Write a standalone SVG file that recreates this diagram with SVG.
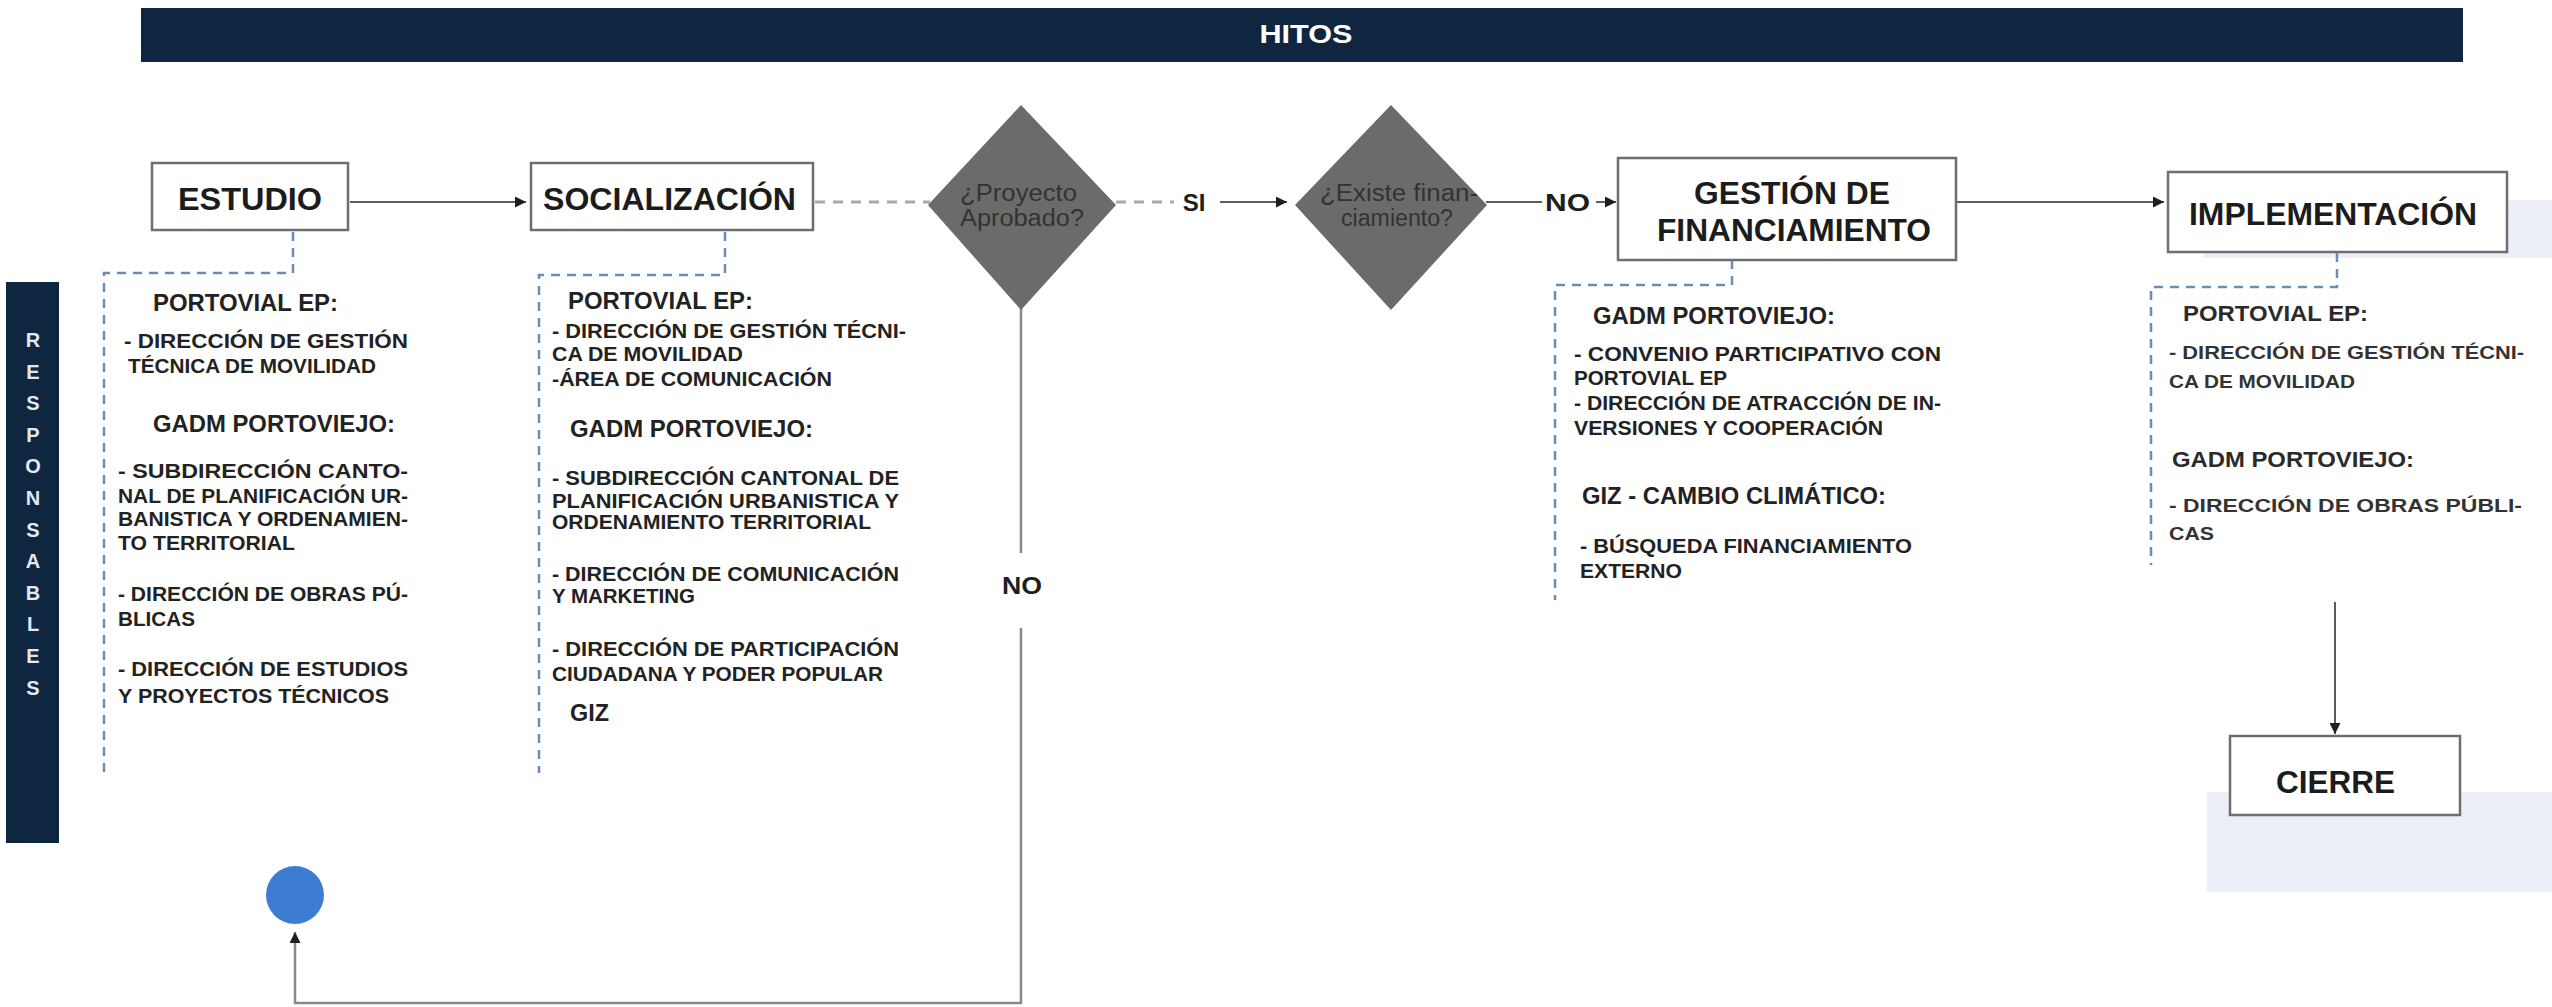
<svg xmlns="http://www.w3.org/2000/svg" width="2552" height="1007" viewBox="0 0 2552 1007">
<style>
.bar{fill:#0f2640}
.box{fill:#ffffff;stroke:#6e6e6e;stroke-width:2.5}
.band{fill:#e6eaf6;fill-opacity:0.75}
.btxt{font-family:"Liberation Sans",Arial,sans-serif;font-weight:bold;font-size:31px;fill:#1c1c1c}
.hd{font-family:"Liberation Sans Narrow","Liberation Sans",Arial,sans-serif;font-weight:bold;font-size:24px;fill:#222}
.bd{font-family:"Liberation Sans Narrow","Liberation Sans",Arial,sans-serif;font-weight:bold;font-size:21px;fill:#222}
.hd4{font-family:"Liberation Sans",Arial,sans-serif;font-weight:bold;font-size:22px;fill:#2a2a2a}
.bd4{font-family:"Liberation Sans",Arial,sans-serif;font-weight:bold;font-size:18px;fill:#333}
.dia{fill:#6b6b6b}
.dtxt{font-family:"Liberation Sans Narrow","Liberation Sans",Arial,sans-serif;font-size:23px;fill:#333333}
.lbl{font-family:"Liberation Sans",Arial,sans-serif;font-weight:bold;font-size:24px;fill:#1e1e1e}
.resp{font-family:"Liberation Sans",Arial,sans-serif;font-weight:bold;font-size:20px;fill:#e3e8ee}
.hitos{font-family:"Liberation Sans",Arial,sans-serif;font-weight:bold;font-size:26px;fill:#ffffff}
.conn{stroke:#5c5c5c;stroke-width:2;fill:none}
.loop{stroke:#8a8a8a;stroke-width:2.5;fill:none}
.gdash{stroke:#a9a9a9;stroke-width:3;stroke-dasharray:10 8;fill:none}
.bdash{stroke:#6a8cb8;stroke-width:2.5;stroke-dasharray:9 7;fill:none}
</style>
<defs>
<marker id="ah" viewBox="0 0 10 10" refX="10" refY="5" markerWidth="11" markerHeight="11" markerUnits="userSpaceOnUse" orient="auto">
<path d="M0,0 L10,5 L0,10 z" fill="#1e1e1e"/>
</marker>
</defs>
<rect width="2552" height="1007" fill="#ffffff"/>

<g id="hitos-bar">
<rect class="bar" x="141" y="8" width="2322" height="54"/>
<text class="hitos" x="1306" y="43" text-anchor="middle" textLength="93" lengthAdjust="spacingAndGlyphs">HITOS</text>
</g>

<g id="responsables-bar">
<rect class="bar" x="6" y="282" width="53" height="561"/>
<g class="resp" text-anchor="middle">
<text x="33" y="347">R</text>
<text x="33" y="379">E</text>
<text x="33" y="410">S</text>
<text x="33" y="442">P</text>
<text x="33" y="473">O</text>
<text x="33" y="505">N</text>
<text x="33" y="537">S</text>
<text x="33" y="568">A</text>
<text x="33" y="600">B</text>
<text x="33" y="631">L</text>
<text x="33" y="663">E</text>
<text x="33" y="695">S</text>
</g>
</g>

<g id="bands">
<rect class="band" x="2203" y="200" width="349" height="58"/>
<rect class="band" x="2207" y="792" width="345" height="100"/>
</g>

<g id="connectors">
<line class="conn" x1="350" y1="202" x2="526" y2="202" marker-end="url(#ah)"/>
<line class="gdash" x1="815" y1="202" x2="930" y2="202"/>
<line class="gdash" x1="1116" y1="202" x2="1174" y2="202"/>
<line class="conn" x1="1220" y1="202" x2="1287" y2="202" marker-end="url(#ah)"/>
<line class="conn" x1="1486" y1="202" x2="1542" y2="202"/>
<line class="conn" x1="1596" y1="202" x2="1616" y2="202" marker-end="url(#ah)"/>
<line class="conn" x1="1957" y1="202" x2="2164" y2="202" marker-end="url(#ah)"/>
<line class="conn" x1="2335" y1="602" x2="2335" y2="734" marker-end="url(#ah)"/>
<line class="loop" x1="1021" y1="308" x2="1021" y2="553"/>
<polyline class="loop" points="1021,628 1021,1003 295,1003 295,932" marker-end="url(#ah)"/>
<polyline class="bdash" points="293,232 293,273 104,273 104,773"/>
<polyline class="bdash" points="725,232 725,275 539,275 539,773"/>
<polyline class="bdash" points="1732,260 1732,285 1555,285 1555,600"/>
<polyline class="bdash" points="2337,253 2337,287 2151,287 2151,565"/>
<text class="lbl" x="1194" y="211" text-anchor="middle">SI</text>
<text class="lbl" x="1545" y="211" textLength="45" lengthAdjust="spacingAndGlyphs">NO</text>
<text class="lbl" x="1002" y="594" textLength="40" lengthAdjust="spacingAndGlyphs" fill="#333">NO</text>
</g>

<g id="estudio">
<rect class="box" x="152" y="163" width="196" height="67"/>
<text class="btxt" x="178" y="210" textLength="144" lengthAdjust="spacingAndGlyphs">ESTUDIO</text>
</g>

<g id="socializacion">
<rect class="box" x="531" y="163" width="282" height="67"/>
<text class="btxt" x="543" y="210" textLength="253" lengthAdjust="spacingAndGlyphs">SOCIALIZACIÓN</text>
</g>

<g id="proyecto-aprobado">
<polygon class="dia" points="1021,105 1116,205 1021,310 928,205"/>
<text class="dtxt" x="960" y="201" textLength="117" lengthAdjust="spacingAndGlyphs">¿Proyecto</text>
<text class="dtxt" x="960" y="226" textLength="124" lengthAdjust="spacingAndGlyphs">Aprobado?</text>
</g>

<g id="existe-financiamiento">
<polygon class="dia" points="1391,105 1487,205 1391,310 1295,205"/>
<text class="dtxt" x="1320" y="201" textLength="158" lengthAdjust="spacingAndGlyphs">¿Existe finan-</text>
<text class="dtxt" x="1341" y="226" textLength="112" lengthAdjust="spacingAndGlyphs">ciamiento?</text>
</g>

<g id="gestion-financiamiento">
<rect class="box" x="1618" y="158" width="338" height="102"/>
<text class="btxt" x="1694" y="204" textLength="196" lengthAdjust="spacingAndGlyphs">GESTIÓN DE</text>
<text class="btxt" x="1657" y="241" textLength="274" lengthAdjust="spacingAndGlyphs">FINANCIAMIENTO</text>
</g>

<g id="implementacion">
<rect class="box" x="2168" y="172" width="339" height="80"/>
<text class="btxt" x="2189" y="225" textLength="288" lengthAdjust="spacingAndGlyphs">IMPLEMENTACIÓN</text>
</g>

<g id="cierre">
<rect class="box" x="2230" y="736" width="230" height="79"/>
<text class="btxt" x="2276" y="793" textLength="119" lengthAdjust="spacingAndGlyphs">CIERRE</text>
</g>

<g id="inicio">
<circle cx="295" cy="895" r="29" fill="#3d7dd1"/>
</g>

<g id="resp-estudio">
<text class="hd" x="153" y="311" textLength="185" lengthAdjust="spacingAndGlyphs">PORTOVIAL EP:</text>
<text class="bd" x="124" y="348" textLength="284" lengthAdjust="spacingAndGlyphs">- DIRECCIÓN DE GESTIÓN</text>
<text class="bd" x="128" y="373" textLength="248" lengthAdjust="spacingAndGlyphs">TÉCNICA DE MOVILIDAD</text>
<text class="hd" x="153" y="432" textLength="242" lengthAdjust="spacingAndGlyphs">GADM PORTOVIEJO:</text>
<text class="bd" x="118" y="478" textLength="290" lengthAdjust="spacingAndGlyphs">- SUBDIRECCIÓN CANTO-</text>
<text class="bd" x="118" y="503" textLength="290" lengthAdjust="spacingAndGlyphs">NAL DE PLANIFICACIÓN UR-</text>
<text class="bd" x="118" y="526" textLength="290" lengthAdjust="spacingAndGlyphs">BANISTICA Y ORDENAMIEN-</text>
<text class="bd" x="118" y="550" textLength="177" lengthAdjust="spacingAndGlyphs">TO TERRITORIAL</text>
<text class="bd" x="118" y="601" textLength="290" lengthAdjust="spacingAndGlyphs">- DIRECCIÓN DE OBRAS PÚ-</text>
<text class="bd" x="118" y="626" textLength="77" lengthAdjust="spacingAndGlyphs">BLICAS</text>
<text class="bd" x="118" y="676" textLength="290" lengthAdjust="spacingAndGlyphs">- DIRECCIÓN DE ESTUDIOS</text>
<text class="bd" x="118" y="703" textLength="271" lengthAdjust="spacingAndGlyphs">Y PROYECTOS TÉCNICOS</text>
</g>

<g id="resp-socializacion">
<text class="hd" x="568" y="309" textLength="185" lengthAdjust="spacingAndGlyphs">PORTOVIAL EP:</text>
<text class="bd" x="552" y="338" textLength="354" lengthAdjust="spacingAndGlyphs">- DIRECCIÓN DE GESTIÓN TÉCNI-</text>
<text class="bd" x="552" y="361" textLength="191" lengthAdjust="spacingAndGlyphs">CA DE MOVILIDAD</text>
<text class="bd" x="552" y="386" textLength="280" lengthAdjust="spacingAndGlyphs">-ÁREA DE COMUNICACIÓN</text>
<text class="hd" x="570" y="437" textLength="243" lengthAdjust="spacingAndGlyphs">GADM PORTOVIEJO:</text>
<text class="bd" x="552" y="485" textLength="347" lengthAdjust="spacingAndGlyphs">- SUBDIRECCIÓN CANTONAL DE</text>
<text class="bd" x="552" y="508" textLength="347" lengthAdjust="spacingAndGlyphs">PLANIFICACIÓN URBANISTICA Y</text>
<text class="bd" x="552" y="529" textLength="319" lengthAdjust="spacingAndGlyphs">ORDENAMIENTO TERRITORIAL</text>
<text class="bd" x="552" y="581" textLength="347" lengthAdjust="spacingAndGlyphs">- DIRECCIÓN DE COMUNICACIÓN</text>
<text class="bd" x="552" y="603" textLength="143" lengthAdjust="spacingAndGlyphs">Y MARKETING</text>
<text class="bd" x="552" y="656" textLength="347" lengthAdjust="spacingAndGlyphs">- DIRECCIÓN DE PARTICIPACIÓN</text>
<text class="bd" x="552" y="681" textLength="331" lengthAdjust="spacingAndGlyphs">CIUDADANA Y PODER POPULAR</text>
<text class="hd" x="570" y="721" textLength="39" lengthAdjust="spacingAndGlyphs">GIZ</text>
</g>

<g id="resp-gestion">
<text class="hd" x="1593" y="324" textLength="242" lengthAdjust="spacingAndGlyphs">GADM PORTOVIEJO:</text>
<text class="bd" x="1574" y="361" textLength="367" lengthAdjust="spacingAndGlyphs">- CONVENIO PARTICIPATIVO CON</text>
<text class="bd" x="1574" y="385" textLength="153" lengthAdjust="spacingAndGlyphs">PORTOVIAL EP</text>
<text class="bd" x="1574" y="410" textLength="367" lengthAdjust="spacingAndGlyphs">- DIRECCIÓN DE ATRACCIÓN DE IN-</text>
<text class="bd" x="1574" y="435" textLength="309" lengthAdjust="spacingAndGlyphs">VERSIONES Y COOPERACIÓN</text>
<text class="hd" x="1582" y="504" textLength="304" lengthAdjust="spacingAndGlyphs">GIZ - CAMBIO CLIMÁTICO:</text>
<text class="bd" x="1580" y="553" textLength="332" lengthAdjust="spacingAndGlyphs">- BÚSQUEDA FINANCIAMIENTO</text>
<text class="bd" x="1580" y="578" textLength="102" lengthAdjust="spacingAndGlyphs">EXTERNO</text>
</g>

<g id="resp-implementacion">
<text class="hd4" x="2183" y="321" textLength="185" lengthAdjust="spacingAndGlyphs">PORTOVIAL EP:</text>
<text class="bd4" x="2169" y="359" textLength="355" lengthAdjust="spacingAndGlyphs">- DIRECCIÓN DE GESTIÓN TÉCNI-</text>
<text class="bd4" x="2169" y="388" textLength="186" lengthAdjust="spacingAndGlyphs">CA DE MOVILIDAD</text>
<text class="hd4" x="2172" y="467" textLength="242" lengthAdjust="spacingAndGlyphs">GADM PORTOVIEJO:</text>
<text class="bd4" x="2169" y="512" textLength="353" lengthAdjust="spacingAndGlyphs">- DIRECCIÓN DE OBRAS PÚBLI-</text>
<text class="bd4" x="2169" y="540" textLength="45" lengthAdjust="spacingAndGlyphs">CAS</text>
</g>
</svg>
